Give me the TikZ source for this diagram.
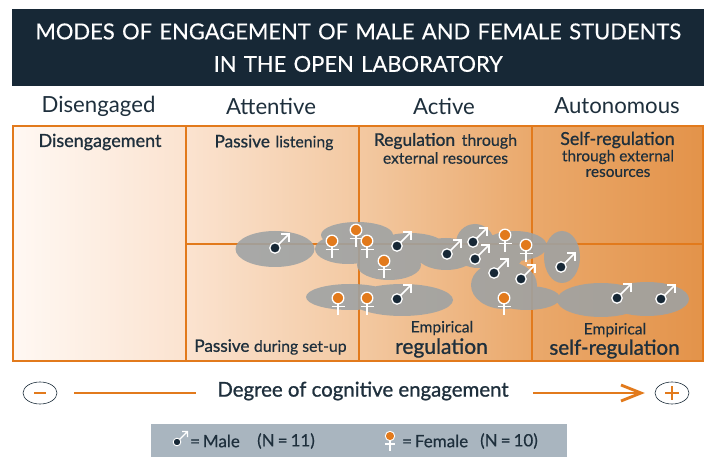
\documentclass[tikz,border=0pt]{standalone}
\usepackage{fontspec}
\usetikzlibrary{shapes.geometric}
\setmainfont{Lato}
\newfontfamily\medf{Lato}[FakeBold=0.35]
\newfontfamily\semif{Lato}[FakeBold=1.0]
\definecolor{navy}{HTML}{172836}
\definecolor{ink}{HTML}{1E2F3C}
\definecolor{org}{HTML}{E27A1C}
\definecolor{blob}{HTML}{9DA2A4}
\definecolor{legendbg}{HTML}{A9B5BF}
\definecolor{g0}{HTML}{FFF8F3}
\definecolor{g1}{HTML}{FBE3D0}
\definecolor{g2}{HTML}{F3C9A2}
\definecolor{g3}{HTML}{EAA96C}
\definecolor{g4}{HTML}{E3934A}
\pgfdeclarehorizontalshading{cellshade}{100bp}{color(0bp)=(g0);color(25bp)=(g0);color(37.5bp)=(g1);color(50bp)=(g2);color(62.5bp)=(g3);color(75bp)=(g4);color(100bp)=(g4)}
\tikzset{
 gridline/.style={draw=org,line width=2.1pt},
 head/.style={text=ink,font=\fontsize{22.2}{24}\selectfont,anchor=center,inner sep=0pt},
 lab/.style={text=ink,anchor=center,inner sep=0pt,align=center},
 maleS/.pic={
   \draw[white,line width=1.6pt] (0,0)--(13,-13) (6,-14)--(14,-14)--(14,-6);
   \fill[navy,draw=white,line width=1.3pt] (0,0) circle (5.2);},
 femaleS/.pic={
   \draw[white,line width=1.6pt] (0,0)--(0,17) (-6.5,8.5)--(6.5,8.5);
   \fill[org,draw=white,line width=1.3pt] (0,0) circle (5.8);},
}
\begin{document}
\begin{tikzpicture}[x=1pt,y=-1pt]
\useasboundingbox (0,0) rectangle (707,462);
\fill[white] (0,0) rectangle (707,462);
% title
\node[fill=navy,inner sep=0pt,anchor=north west,text width=692pt,minimum height=77pt,align=center,text=white,font=\medf\fontsize{21.95}{32.5}\selectfont] (title) at (12,9) {MODES OF ENGAGEMENT OF MALE AND FEMALE STUDENTS\\IN THE OPEN LABORATORY};
% column heads
\node[head] (h1) at (98.5,106) {Disengaged};
\node[head] (h2) at (271,106) {Attentive};
\node[head] (h3) at (444,106) {Active};
\node[head] (h4) at (617,106) {Autonomous};
% grid
\shade[shading=cellshade] (13,126) rectangle (703,361);
\draw[gridline] (13,126) rectangle (703,361);
\draw[gridline] (186,126)--(186,361) (359,126)--(359,361) (532,126)--(532,361) (186,244)--(703,244);
% blobs
\fill[blob,fill opacity=.88]
 (275,249) ellipse [x radius=39.5,y radius=18]
 (357,235) ellipse [x radius=36,y radius=13]
 (348,249) ellipse [x radius=33,y radius=15]
 (389,265) ellipse [x radius=32,y radius=15]
 (410,247) ellipse [x radius=36,y radius=14]
 (446,254) ellipse [x radius=30,y radius=16]
 (475,243) ellipse [x radius=19,y radius=19]
 (478,256) ellipse [x radius=20,y radius=12]
 (515,246) ellipse [x radius=32,y radius=15]
 (497,258) ellipse [x radius=25,y radius=12]
 (562,257) ellipse [x radius=18,y radius=26]
 (504,285) ellipse [x radius=33,y radius=24]
 (527,298) ellipse [x radius=33,y radius=12]
 (350,297) ellipse [x radius=44,y radius=13]
 (402,300) ellipse [x radius=51,y radius=16]
 (601,300) ellipse [x radius=44,y radius=17]
 (647,299) ellipse [x radius=42,y radius=17];
% cell labels
\node[lab,font=\semif\fontsize{18}{18}\selectfont] (c1) at (100,142) {Disengagement};
\node[lab] (c2) at (274,142.5) {{\semif\fontsize{17.2}{17}\selectfont Passive}\hspace{3pt} {\medf\fontsize{15.8}{16}\selectfont listening}};
\node[lab] (c3a) at (445.5,141) {{\semif\fontsize{17.4}{17}\selectfont Regulation}\hspace{4pt} {\medf\fontsize{16}{16}\selectfont through}};
\node[lab,font=\medf\fontsize{15.6}{16}\selectfont] (c3b) at (445.5,158) {external resources};
\node[lab,font=\semif\fontsize{17.8}{18}\selectfont] (c4a) at (617.5,140) {Self-regulation};
\node[lab,font=\medf\fontsize{15.4}{16}\selectfont] (c4b) at (618,157) {through external};
\node[lab,font=\medf\fontsize{15.4}{16}\selectfont] (c4c) at (618,173) {resources};
\node[lab] (c5) at (270.5,347) {{\semif\fontsize{17.1}{16}\selectfont Passive}\hspace{2pt} {\medf\fontsize{15.8}{16}\selectfont during set-up}};
\node[lab,font=\medf\fontsize{15.6}{16}\selectfont] (c6) at (442,328) {Empirical};
\node[lab,font=\semif\fontsize{21}{20}\selectfont] (c7) at (441.5,348) {regulation};
\node[lab,font=\medf\fontsize{15.6}{16}\selectfont] (c8) at (615,330) {Empirical};
\node[lab,font=\semif\fontsize{20.6}{20}\selectfont] (c9) at (614.5,349) {self-regulation};
% symbols
\foreach \x/\y in {275/248,397/246,397/299,447/254,473/242,475/259,494/273,521/279,561/267,617/298,661/299}
  \pic at (\x,\y) {maleS};
\foreach \x/\y in {332/241,356/230,367/241,384/261,338/298,367/298,505/235,526/245,504/298}
  \pic at (\x,\y) {femaleS};
% axis
\node[draw=ink,line width=.6pt,ellipse,minimum width=34pt,minimum height=22pt,inner sep=0pt] (minus) at (40,393) {};
\node[draw=ink,line width=.6pt,ellipse,minimum width=34pt,minimum height=22pt,inner sep=0pt] (plus) at (672,393) {};
\draw[org,line width=1.6pt] (34,393)--(46,393) (665,393)--(679,393) (672,386)--(672,400);
\node[inner sep=0pt,text=ink,font=\semif\fontsize{20.4}{22}\selectfont] (axis) at (363,391) {Degree of cognitive engagement};
\coordinate (a1) at (74,393);
\coordinate (a2) at (196,393);
\coordinate (a3) at (533,393);
\coordinate (a4) at (641,393);
\draw[org,line width=2.8pt] (a1)--(a2);
\draw[org,line width=2.8pt] (a3)--(a4);
\draw[org,line width=2.8pt] ([shift={(-20,-8)}]a4)--(a4)--([shift={(-20,8)}]a4);
% legend
\fill[legendbg] (151,424) rectangle (567,457);
\begin{scope}[shift={(177,442)}]
 \draw[white,line width=1.1pt] (0,0)--(10,-10) (5,-10.5)--(10.5,-10.5)--(10.5,-5);
 \fill[navy,draw=white,line width=.9pt] (0,0) circle (3.8);
\end{scope}
\begin{scope}[shift={(390,436)}]
 \draw[white,line width=1.1pt] (0,0)--(0,15) (-5,8)--(5,8);
 \fill[org,draw=white,line width=.9pt] (0,0) circle (4.7);
\end{scope}
\node[anchor=west,inner sep=0pt,text=ink,font=\medf\fontsize{17}{18}\selectfont] (lm) at (190,441) {=\,Male};
\node[anchor=west,inner sep=0pt,text=ink,font=\medf\fontsize{17}{18}\selectfont] (lm2) at (257,441) {(N\hspace{3pt}=\hspace{3pt}11)};
\node[anchor=west,inner sep=0pt,text=ink,font=\medf\fontsize{17}{18}\selectfont] (lf) at (402,441) {=\,Female};
\node[anchor=west,inner sep=0pt,text=ink,font=\medf\fontsize{17}{18}\selectfont] (lf2) at (480,441) {(N\hspace{3pt}=\hspace{3pt}10)};
\end{tikzpicture}
\end{document}
